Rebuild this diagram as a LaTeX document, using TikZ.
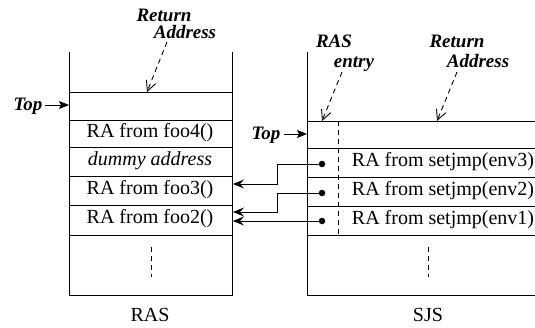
\documentclass[tikz,border=0pt]{standalone}
\usepackage{fontspec}
\setmainfont{Liberation Serif}
\usetikzlibrary{arrows.meta}
\begin{document}
\begin{tikzpicture}[x=1pt,y=-1pt,line width=0.9pt,
  txt/.style={font=\fontsize{20}{22}\selectfont,inner sep=0pt},
  lbl/.style={font=\fontsize{19}{20}\selectfont\bfseries\itshape,inner sep=0pt,anchor=base},
  ptr/.style={dashed,dash pattern=on 5pt off 4pt,-{Straight Barb[length=10pt,width=10pt]}},
  conn/.style={-{Stealth[length=11pt,width=9pt,inset=4pt]}},
  topar/.style={-{Stealth[length=10pt,width=8pt,inset=2pt]}},
  dot/.style={circle,fill,inner sep=0pt,minimum size=6.5pt}]
\useasboundingbox (0,0) rectangle (535,327);
% RAS stack
\draw (69,52) -- (69,295) -- (232,295) -- (232,52);
\foreach \y in {92,120,147,176,205,235} \draw (69,\y) -- (232,\y);
\draw[dashed,dash pattern=on 5pt off 4pt] (151,247) -- (151,277);
\node[txt] (f4) at (150,133) {RA from foo4()};
\node[txt] (dm) at (150,161) {\itshape dummy address};
\node[txt] (f3) at (150,190) {RA from foo3()};
\node[txt] (f2) at (150,219) {RA from foo2()};
\node[txt] (ras) at (150,315) {RAS};
% SJS stack
\draw (307,52) -- (307,295) -- (535,295);
\foreach \y in {121,148,177,206,235} \draw (307,\y) -- (535,\y);
\draw[dashed,dash pattern=on 5pt off 4pt] (338,121) -- (338,235);
\draw[dashed,dash pattern=on 5pt off 4pt] (428,247) -- (428,277);
\node[txt] (e3) at (443,162) {RA from setjmp(env3)};
\node[txt] (e2) at (443,191) {RA from setjmp(env2)};
\node[txt] (e1) at (443,220) {RA from setjmp(env1)};
\node[txt] (sjs) at (428,315) {SJS};
% Top labels
\node[lbl] (topL) at (28,110) {Top};
\coordinate (topLt) at (69,105);
\draw[topar] (45,105) -- (topLt);
\node[lbl] (topR) at (266,139) {Top};
\coordinate (topRt) at (307,134);
\draw[topar] (284,134) -- (topRt);
% Return address labels
\node[lbl] (ret1) at (164,21) {Return};
\node[lbl] (adr1) at (185,38) {Address};
\coordinate (t1) at (147,92);
\draw[ptr] (167,42) -- (t1);
\node[lbl] (ras2) at (334,47) {RAS};
\node[lbl] (ent) at (354,67) {entry};
\coordinate (t2) at (322,121);
\draw[ptr] (342,72) -- (t2);
\node[lbl] (ret2) at (457,47) {Return};
\node[lbl] (adr2) at (478,67) {Address};
\coordinate (t3) at (437,121);
\draw[ptr] (457,72) -- (t3);
% dots and connectors
\node[dot] (d3) at (322,164) {};
\node[dot] (d2) at (322,193) {};
\node[dot] (d1) at (322,221) {};
\coordinate (a3) at (233,184);
\coordinate (a2) at (233,212);
\coordinate (a1) at (233,221);
\draw[conn] (d3.center) -- (277,164) |- (a3);
\draw[conn] (d2.center) -- (277,193) |- (a2);
\draw[conn] (d1.center) -- (a1);
\end{tikzpicture}
\end{document}
